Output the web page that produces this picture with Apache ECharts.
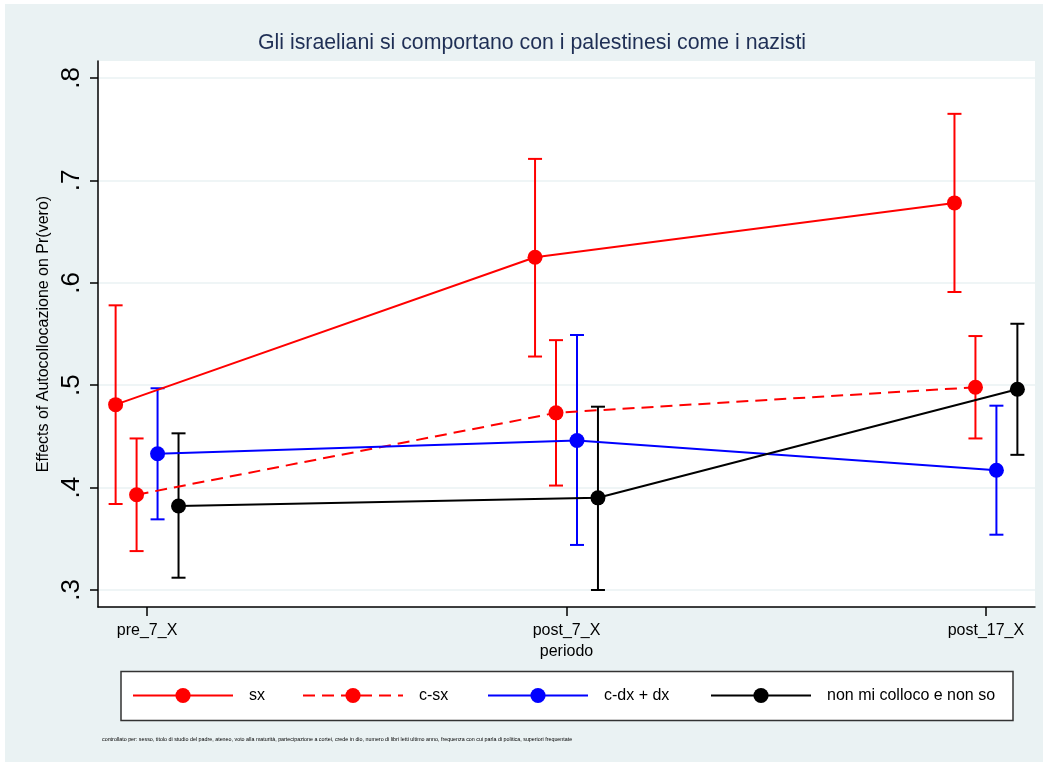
<!DOCTYPE html>
<html>
<head>
<meta charset="utf-8">
<script src="https://cdn.jsdelivr.net/npm/echarts@6/dist/echarts.min.js"></script>
<style>html,body{margin:0;padding:0;background:#fff}#c{width:1048px;height:767px}</style>
</head>
<body>
<div id="c"></div>
<script>
// ---- data ----
const categories = ['pre_7_X', 'post_7_X', 'post_17_X'];
const catPos = [1, 2, 3];
const seriesNames = ['sx', 'c-sx', 'c-dx + dx', 'non mi colloco e non so'];
const sxEst  = [0.481, 0.625, 0.678];
const sxLo   = [0.384, 0.528, 0.591];
const sxHi   = [0.578, 0.721, 0.765];
const csxEst = [0.393, 0.473, 0.498];
const csxLo  = [0.338, 0.402, 0.448];
const csxHi  = [0.448, 0.544, 0.548];
const cdxEst = [0.433, 0.446, 0.417];
const cdxLo  = [0.369, 0.344, 0.354];
const cdxHi  = [0.497, 0.549, 0.480];
const nonEst = [0.382, 0.390, 0.496];
const nonLo  = [0.312, 0.300, 0.432];
const nonHi  = [0.453, 0.479, 0.560];
const yTicks = [0.3, 0.4, 0.5, 0.6, 0.7, 0.8];
const titleText = 'Gli israeliani si comportano con i palestinesi come i nazisti';
const yTitle = 'Effects of Autocollocazione on Pr(vero)';
const xTitle = 'periodo';
const note = 'controllato per: sesso, titolo di studio del padre, ateneo, voto alla maturità, partecipazione a cortei, crede in dio, numero di libri letti ultimo anno, frequenza con cui parla di politica, superiori frequentate';

// ---- styling ----
const FONT = '"Liberation Sans", Arial, Helvetica, sans-serif';
const dodge = [-0.075, -0.025, 0.025, 0.075];
const colors = ['#ff0000', '#ff0000', '#0000ff', '#000000'];
const lineTypes = ['solid', [12, 7], 'solid', 'solid'];
const legendLeft = [132, 302, 487, 710];
const ests = [sxEst, csxEst, cdxEst, nonEst];
const los = [sxLo, csxLo, cdxLo, nonLo];
const his = [sxHi, csxHi, cdxHi, nonHi];

const series = [];
seriesNames.forEach((name, s) => {
  series.push({
    name: name + ' CI',
    type: 'custom',
    data: catPos.map((p, i) => [p + dodge[s], los[s][i], his[s][i]]),
    encode: { x: 0, y: [1, 2] },
    z: 2,
    renderItem: (params, api) => {
      const x = api.value(0);
      const a = api.coord([x, api.value(1)]);
      const b = api.coord([x, api.value(2)]);
      const w = 7;
      const st = { stroke: colors[s], lineWidth: 2 };
      return {
        type: 'group',
        children: [
          { type: 'line', shape: { x1: a[0], y1: a[1], x2: b[0], y2: b[1] }, style: st },
          { type: 'line', shape: { x1: a[0] - w, y1: a[1], x2: a[0] + w, y2: a[1] }, style: st },
          { type: 'line', shape: { x1: b[0] - w, y1: b[1], x2: b[0] + w, y2: b[1] }, style: st }
        ]
      };
    }
  });
  series.push({
    name: name,
    type: 'line',
    z: 3,
    data: catPos.map((p, i) => [p + dodge[s], ests[s][i]]),
    symbol: 'circle',
    symbolSize: 15,
    showAllSymbol: true,
    lineStyle: { color: colors[s], width: 2, type: lineTypes[s] },
    itemStyle: { color: colors[s] }
  });
});

const legends = seriesNames.map((name, s) => ({
  data: [name],
  left: legendLeft[s],
  top: 687.5,
  padding: 0,
  itemWidth: 100,
  itemHeight: 19,
  selectedMode: false,
  z: 3,
  textStyle: { fontFamily: FONT, fontSize: 16, color: '#000', padding: [2, 0, 0, 11] }
}));

const chart = echarts.init(document.getElementById('c'), null, { renderer: 'canvas' });
chart.setOption({
  animation: false,
  backgroundColor: '#ffffff',
  textStyle: { fontFamily: FONT },
  title: {
    text: titleText,
    left: 258,
    top: 33,
    padding: 0,
    textStyle: { fontFamily: FONT, fontSize: 21.3, fontWeight: 'normal', color: '#1f2f55' }
  },
  graphic: [
    { type: 'rect', z: -1, silent: true, shape: { x: 5, y: 4, width: 1038, height: 758 }, style: { fill: '#eaf2f3' } },
    { type: 'rect', z: 1, silent: true, shape: { x: 121, y: 671.5, width: 892, height: 49 }, style: { fill: '#ffffff', stroke: '#333333', lineWidth: 1.5 } },
    { type: 'text', z: 2, silent: true, x: 102, y: 740, style: { text: note, fontFamily: FONT, fontSize: 5.35, fill: '#000', verticalAlign: 'middle' } }
  ],
  legend: legends,
  grid: {
    left: 98, right: 13, top: 61, bottom: 160,
    show: true, backgroundColor: '#ffffff', borderWidth: 0
  },
  xAxis: {
    type: 'value',
    min: 0.883,
    max: 3.117,
    name: xTitle,
    nameLocation: 'middle',
    nameGap: 35,
    nameTextStyle: { fontFamily: FONT, fontSize: 16, color: '#000' },
    axisLine: { show: true, onZero: false, lineStyle: { color: '#000', width: 1.5 } },
    axisTick: { show: true, length: 9, customValues: catPos, lineStyle: { color: '#000', width: 1.5 } },
    axisLabel: {
      customValues: catPos,
      margin: 16,
      fontFamily: FONT, fontSize: 16, color: '#000',
      formatter: v => categories[catPos.indexOf(Math.round(v))] || ''
    },
    splitLine: { show: false }
  },
  yAxis: {
    type: 'value',
    min: 0.2834,
    max: 0.8166,
    name: yTitle,
    nameLocation: 'middle',
    nameGap: 41,
    nameRotate: 90,
    nameTextStyle: { fontFamily: FONT, fontSize: 16, color: '#000' },
    axisLine: { show: true, onZero: false, lineStyle: { color: '#000', width: 1.5 } },
    axisTick: { show: true, length: 8, customValues: yTicks, lineStyle: { color: '#000', width: 1.5 } },
    axisLabel: {
      customValues: yTicks,
      rotate: 90,
      margin: 13,
      fontFamily: FONT, fontSize: 26, color: '#000',
      formatter: v => v.toFixed(1).replace(/^0/, '')
    },
    splitLine: { show: true, lineStyle: { color: '#eaf2f3', width: 1.5 } }
  },
  series: series
});
</script>
</body>
</html>
